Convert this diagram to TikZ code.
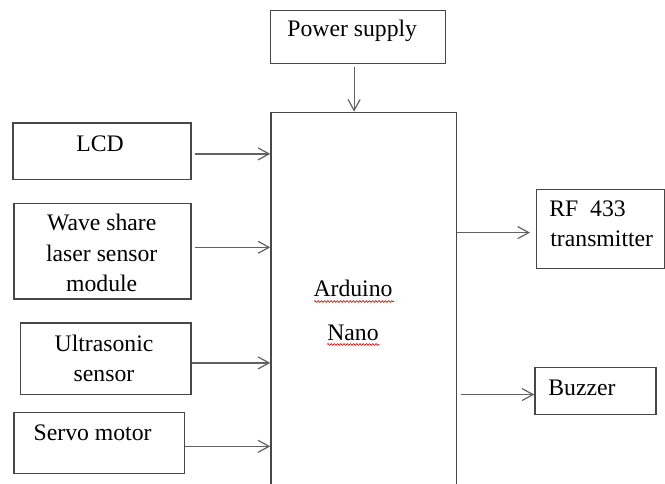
\documentclass[tikz,border=0pt]{standalone}
\usepackage{fontspec}
\setmainfont{Liberation Serif}
\usetikzlibrary{arrows.meta,decorations.pathmorphing}
\begin{document}
\begin{tikzpicture}[x=0.5pt,y=-0.5pt,
 box/.style={draw=black!72, line width=0.6pt, inner sep=0pt, anchor=north west},
 lbl/.style={inner sep=0pt, font=\fontsize{11.85}{15}\selectfont},
 arr/.style={draw=black!62, line width=0.6pt, -{Straight Barb[length=5.5pt,width=6pt]}},
 squig/.style={draw=red!85!black, line width=0.3pt, decorate, decoration={snake, amplitude=0.45pt, segment length=1.6pt}}]
\useasboundingbox (0,0) rectangle (665,483);
% boxes
\node[box, minimum width=87.5pt, minimum height=26.25pt] (pow) at (270,10) {};
\node[box, minimum width=92.7pt, minimum height=191.65pt] (ard) at (270.3,111.7) {};
\node[box, minimum width=89pt, minimum height=28.2pt] (lcd) at (12.3,122.3) {};
\node[box, minimum width=88.5pt, minimum height=47.8pt] (wave) at (13.3,202.7) {};
\node[box, minimum width=85.15pt, minimum height=35.7pt] (ultra) at (20,322.3) {};
\node[box, minimum width=85.2pt, minimum height=30.35pt] (servo) at (13.3,412) {};
\node[box, minimum width=64.15pt, minimum height=39.5pt] (rf) at (535.7,188.7) {};
\node[box, minimum width=60.5pt, minimum height=23.65pt] (buz) at (534.3,366.7) {};
% texts
\node[lbl, anchor=base west] (tpow) at (287,36.7) {Power supply};
\node[lbl, anchor=base] (tlcd) at (100,151.7) {LCD};
\node[lbl, anchor=base] (tw1) at (101.7,230.7) {Wave share};
\node[lbl, anchor=base] (tw2) at (101.7,261.7) {laser sensor};
\node[lbl, anchor=base] (tw3) at (101.7,291.7) {module};
\node[lbl, anchor=base] (tu1) at (104,351.7) {Ultrasonic};
\node[lbl, anchor=base] (tu2) at (104,381) {sensor};
\node[lbl, anchor=base west] (tservo) at (33.3,440) {Servo motor};
\node[lbl, anchor=base west] (trf1) at (549,216.7) {RF\ \ 433};
\node[lbl, anchor=base west] (trf2) at (550,246.7) {transmitter};
\node[lbl, anchor=base west] (tbuz) at (548,395) {Buzzer};
\node[lbl, anchor=base] (tard1) at (353,296.7) {Arduino};
\node[lbl, anchor=base] (tard2) at (353,340) {Nano};
% spell-check squiggles
\coordinate (sq1a) at (314,301.5); \coordinate (sq1b) at (394,301.5);
\coordinate (sq2a) at (327,344.5); \coordinate (sq2b) at (379,344.5);
\draw[squig] (sq1a) -- (sq1b);
\draw[squig] (sq2a) -- (sq2b);
% connectors
\draw[arr] ([xshift=-2pt,yshift=-1.5pt]pow.south) -- ([xshift=-2pt]pow.south |- ard.north);
\draw[arr] ([xshift=1.5pt,yshift=-1.4pt]lcd.east) -- ([yshift=-1.4pt]lcd.east -| ard.west);
\draw[arr] ([xshift=1.5pt,yshift=1.9pt]wave.east) -- ([yshift=1.9pt]wave.east -| ard.west);
\draw[arr] ([yshift=-2.15pt]ultra.east) -- ([yshift=-2.15pt]ultra.east -| ard.west);
\draw[arr] ([yshift=-1.7pt]servo.east) -- ([yshift=-1.7pt]servo.east -| ard.west);
\draw[arr] ([yshift=-1.9pt]rf.west -| ard.east) -- ([xshift=-2.85pt,yshift=-1.9pt]rf.west);
\draw[arr] ([xshift=1.8pt,yshift=-1.8pt]buz.west -| ard.east) -- ([yshift=-1.8pt]buz.west);
\end{tikzpicture}
\end{document}
